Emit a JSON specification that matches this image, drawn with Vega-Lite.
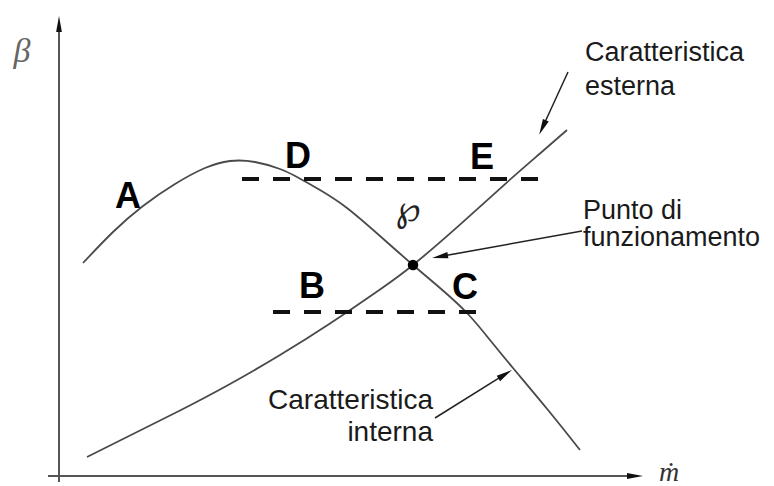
{
  "$schema": "https://vega.github.io/schema/vega-lite/v6.json",
  "width": 774,
  "height": 486,
  "autosize": {"type": "none"},
  "padding": 0,
  "background": "white",
  "config": {"view": {"stroke": null}},
  "datasets": {
    "internal": [
      {"x": 24, "y": 213}, {"x": 54, "y": 244}, {"x": 84, "y": 270}, {"x": 116, "y": 292},
      {"x": 146, "y": 308}, {"x": 171, "y": 315}, {"x": 196, "y": 314}, {"x": 221, "y": 307},
      {"x": 238, "y": 299}, {"x": 261, "y": 286}, {"x": 288, "y": 268}, {"x": 321, "y": 240},
      {"x": 354, "y": 211}, {"x": 381, "y": 188}, {"x": 408, "y": 163}, {"x": 431, "y": 136},
      {"x": 454, "y": 108}, {"x": 489, "y": 66}, {"x": 521, "y": 26}
    ],
    "external": [
      {"x": 28, "y": 19}, {"x": 71, "y": 40.5}, {"x": 121, "y": 65.5}, {"x": 171, "y": 92},
      {"x": 221, "y": 121}, {"x": 271, "y": 152.5}, {"x": 321, "y": 186.5}, {"x": 354, "y": 211},
      {"x": 401, "y": 251.4}, {"x": 448, "y": 293.7}, {"x": 481, "y": 322.5}, {"x": 508, "y": 346}
    ],
    "dashed": [
      {"id": "DE", "x": 183, "y": 297}, {"id": "DE", "x": 489, "y": 297},
      {"id": "BC", "x": 214, "y": 164}, {"id": "BC", "x": 426, "y": 164}
    ],
    "axes": [
      {"id": "y", "ord": 1, "x": 0, "y": -6}, {"id": "y", "ord": 2, "x": 0, "y": 450},
      {"id": "x", "ord": 1, "x": -11, "y": 0}, {"id": "x", "ord": 2, "x": 574, "y": 0}
    ],
    "leaders": [
      {"id": "esterna", "ord": 1, "x": 509, "y": 404}, {"id": "esterna", "ord": 2, "x": 483.5, "y": 348.5},
      {"id": "punto", "ord": 1, "x": 523, "y": 245}, {"id": "punto", "ord": 2, "x": 381, "y": 219.4},
      {"id": "interna", "ord": 1, "x": 376, "y": 58}, {"id": "interna", "ord": 2, "x": 446.2, "y": 101.8}
    ],
    "heads": [
      {"id": "yaxis", "x": 0, "y": 452},
      {"id": "xaxis", "x": 576, "y": 0},
      {"id": "esterna", "x": 483.5, "y": 348.5},
      {"id": "punto", "x": 381, "y": 219.4},
      {"id": "interna", "x": 446.2, "y": 101.8}
    ],
    "operating": [{"x": 354, "y": 211}],
    "letters": [
      {"label": "A", "x": 69, "y": 268},
      {"label": "D", "x": 239, "y": 308},
      {"label": "E", "x": 423, "y": 307},
      {"label": "B", "x": 253, "y": 178},
      {"label": "C", "x": 406, "y": 177}
    ],
    "notesLeft": [
      {"label": "Caratteristica", "x": 526, "y": 415},
      {"label": "esterna", "x": 526, "y": 381},
      {"label": "Punto di", "x": 524, "y": 257},
      {"label": "funzionamento", "x": 524, "y": 230}
    ],
    "notesRight": [
      {"label": "Caratteristica", "x": 374, "y": 67},
      {"label": "interna", "x": 374, "y": 35}
    ],
    "beta": [{"label": "β", "x": -37, "y": 414}],
    "mdot": [{"label": "ṁ", "x": 610, "y": -5}],
    "wp": [{"label": "℘", "x": 349, "y": 266}]
  },
  "encoding": {
    "x": {"field": "x", "type": "quantitative", "scale": {"domain": [-59, 715], "nice": false, "zero": false}, "axis": null},
    "y": {"field": "y", "type": "quantitative", "scale": {"domain": [-10, 476], "nice": false, "zero": false}, "axis": null}
  },
  "layer": [
    {
      "data": {"name": "axes"},
      "mark": {"type": "line", "color": "#555555", "strokeWidth": 2},
      "encoding": {"detail": {"field": "id"}, "order": {"field": "ord"}}
    },
    {
      "data": {"name": "internal"},
      "mark": {"type": "line", "color": "#4a4a4a", "strokeWidth": 1.8, "interpolate": "natural"},
      "encoding": {}
    },
    {
      "data": {"name": "external"},
      "mark": {"type": "line", "color": "#4a4a4a", "strokeWidth": 1.8, "interpolate": "natural"},
      "encoding": {}
    },
    {
      "data": {"name": "dashed"},
      "mark": {"type": "line", "color": "#111111", "strokeWidth": 4, "strokeDash": [17, 14]},
      "encoding": {"detail": {"field": "id"}}
    },
    {
      "data": {"name": "leaders"},
      "mark": {"type": "line", "color": "#222222", "strokeWidth": 1.5},
      "encoding": {"detail": {"field": "id"}, "order": {"field": "ord"}}
    },
    {
      "data": {"name": "heads"},
      "transform": [{"filter": "datum.id === 'yaxis'"}],
      "mark": {"type": "point", "shape": "M0,-1L-0.36,1L0.36,1Z", "size": 256, "filled": true, "opacity": 1, "color": "#111111", "angle": 0}
    },
    {
      "data": {"name": "heads"},
      "transform": [{"filter": "datum.id === 'xaxis'"}],
      "mark": {"type": "point", "shape": "M0,-1L-0.36,1L0.36,1Z", "size": 256, "filled": true, "opacity": 1, "color": "#111111", "angle": 90}
    },
    {
      "data": {"name": "heads"},
      "transform": [{"filter": "datum.id === 'esterna'"}],
      "mark": {"type": "point", "shape": "M0,-1L-0.4,1L0.4,1Z", "size": 256, "filled": true, "opacity": 1, "color": "#111111", "angle": 204.6}
    },
    {
      "data": {"name": "heads"},
      "transform": [{"filter": "datum.id === 'punto'"}],
      "mark": {"type": "point", "shape": "M0,-1L-0.4,1L0.4,1Z", "size": 256, "filled": true, "opacity": 1, "color": "#111111", "angle": 259.8}
    },
    {
      "data": {"name": "heads"},
      "transform": [{"filter": "datum.id === 'interna'"}],
      "mark": {"type": "point", "shape": "M0,-1L-0.4,1L0.4,1Z", "size": 256, "filled": true, "opacity": 1, "color": "#111111", "angle": 58.1}
    },
    {
      "data": {"name": "operating"},
      "mark": {"type": "point", "shape": "circle", "size": 110, "filled": true, "opacity": 1, "color": "#000000"}
    },
    {
      "data": {"name": "letters"},
      "mark": {"type": "text", "font": "Liberation Sans", "fontWeight": "bold", "fontSize": 36, "align": "center", "baseline": "alphabetic", "color": "#000000"},
      "encoding": {"text": {"field": "label"}}
    },
    {
      "data": {"name": "notesLeft"},
      "mark": {"type": "text", "font": "Liberation Sans", "fontSize": 27, "align": "left", "baseline": "alphabetic", "color": "#1a1a1a"},
      "encoding": {"text": {"field": "label"}}
    },
    {
      "data": {"name": "notesRight"},
      "mark": {"type": "text", "font": "Liberation Sans", "fontSize": 28, "align": "right", "baseline": "alphabetic", "color": "#1a1a1a"},
      "encoding": {"text": {"field": "label"}}
    },
    {
      "data": {"name": "beta"},
      "mark": {"type": "text", "font": "Liberation Serif", "fontStyle": "italic", "fontSize": 34, "align": "center", "baseline": "alphabetic", "color": "#666666"},
      "encoding": {"text": {"field": "label"}}
    },
    {
      "data": {"name": "mdot"},
      "mark": {"type": "text", "font": "Liberation Serif", "fontStyle": "italic", "fontSize": 28, "align": "center", "baseline": "alphabetic", "color": "#333333"},
      "encoding": {"text": {"field": "label"}}
    },
    {
      "data": {"name": "wp"},
      "mark": {"type": "text", "font": "DejaVu Sans", "fontSize": 36, "align": "center", "baseline": "middle", "color": "#222222"},
      "encoding": {"text": {"field": "label"}}
    }
  ]
}
